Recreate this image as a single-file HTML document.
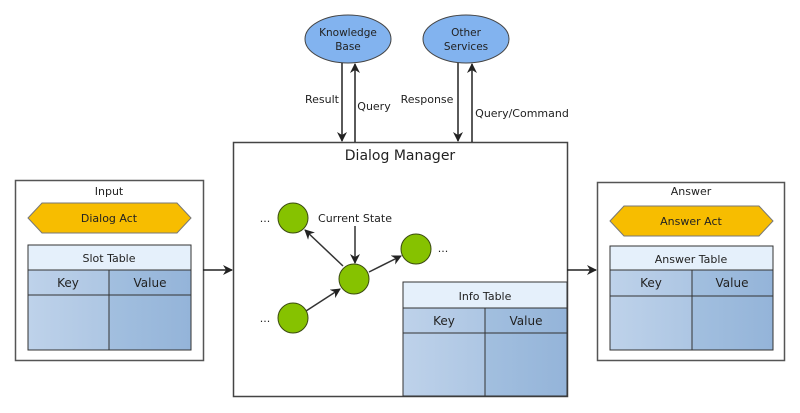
<!DOCTYPE html>
<html><head><meta charset="utf-8"><style>
html,body{margin:0;padding:0;background:#fff;}
svg{display:block;font-family:"DejaVu Sans","Liberation Sans",sans-serif;}
</style></head><body>
<svg width="800" height="413" viewBox="0 0 800 413" xmlns="http://www.w3.org/2000/svg">
<defs>
<marker id="ah" markerWidth="10" markerHeight="10" refX="9" refY="5" orient="auto" markerUnits="userSpaceOnUse">
<path d="M0,0 L10,5 L0,10 L3,5 z" fill="#222"/></marker>
<linearGradient id="gk" x1="0" x2="1"><stop offset="0" stop-color="#bed2ea"/><stop offset="1" stop-color="#adc6e3"/></linearGradient>
<linearGradient id="gv" x1="0" x2="1"><stop offset="0" stop-color="#a2bfdf"/><stop offset="1" stop-color="#94b4d9"/></linearGradient>
</defs>
<g font-size="11" fill="#222" text-anchor="middle">
<!-- Input -->
<rect x="15.5" y="180.5" width="188" height="180" fill="#fff" stroke="#555" stroke-width="1.5"/>
<text x="109" y="195">Input</text>
<polygon points="28,218 42,203 177,203 191,218 177,233 42,233" fill="#f7bd00" stroke="#777"/>
<text x="109" y="222">Dialog Act</text>
<rect x="28" y="245" width="163" height="25" fill="#e5f0fb" stroke="#333"/>
<text x="109" y="262">Slot Table</text>
<rect x="28" y="270" width="81" height="80" fill="url(#gk)" stroke="#333"/>
<rect x="109" y="270" width="82" height="80" fill="url(#gv)" stroke="#333"/>
<line x1="28" y1="295" x2="191" y2="295" stroke="#333"/>
<text x="68" y="287" font-size="12">Key</text>
<text x="150" y="287" font-size="12">Value</text>
<!-- Dialog manager -->
<rect x="233.5" y="142.5" width="334" height="254" fill="#fff" stroke="#444" stroke-width="1.5"/>
<text x="400" y="160" font-size="14">Dialog Manager</text>
<rect x="403" y="282" width="164" height="26" fill="#e5f0fb" stroke="#333"/>
<text x="485" y="300">Info Table</text>
<rect x="403" y="308" width="82" height="88" fill="url(#gk)" stroke="#333"/>
<rect x="485" y="308" width="82" height="88" fill="url(#gv)" stroke="#333"/>
<line x1="403" y1="333" x2="567" y2="333" stroke="#333"/>
<text x="444" y="325" font-size="12">Key</text>
<text x="526" y="325" font-size="12">Value</text>
<!-- graph -->
<line x1="343" y1="266" x2="305" y2="230" stroke="#333" stroke-width="1.5" marker-end="url(#ah)"/>
<line x1="306" y1="311" x2="340" y2="289" stroke="#333" stroke-width="1.5" marker-end="url(#ah)"/>
<line x1="369" y1="272" x2="401" y2="256" stroke="#333" stroke-width="1.5" marker-end="url(#ah)"/>
<line x1="355" y1="226" x2="355" y2="263" stroke="#333" stroke-width="1.5" marker-end="url(#ah)"/>
<text x="355" y="222">Current State</text>
<circle cx="293" cy="218" r="15" fill="#86c200" stroke="#3a4a10" stroke-width="1"/>
<circle cx="354" cy="279" r="15" fill="#86c200" stroke="#3a4a10" stroke-width="1"/>
<circle cx="293" cy="318" r="15" fill="#86c200" stroke="#3a4a10" stroke-width="1"/>
<circle cx="416" cy="249" r="15" fill="#86c200" stroke="#3a4a10" stroke-width="1"/>
<text x="265" y="222">...</text>
<text x="443" y="252">...</text>
<text x="265" y="322">...</text>
<!-- top -->
<ellipse cx="348" cy="39" rx="43" ry="24" fill="#82b3ef" stroke="#444"/>
<text x="348" y="36" font-size="10.5">Knowledge</text>
<text x="348" y="50" font-size="10.5">Base</text>
<ellipse cx="466" cy="39" rx="43" ry="24" fill="#82b3ef" stroke="#444"/>
<text x="466" y="36" font-size="10.5">Other</text>
<text x="466" y="50" font-size="10.5">Services</text>
<line x1="342" y1="63" x2="342" y2="141" stroke="#222" stroke-width="1.5" marker-end="url(#ah)"/>
<line x1="355" y1="142" x2="355" y2="64" stroke="#222" stroke-width="1.5" marker-end="url(#ah)"/>
<line x1="458" y1="63" x2="458" y2="141" stroke="#222" stroke-width="1.5" marker-end="url(#ah)"/>
<line x1="472" y1="142" x2="472" y2="64" stroke="#222" stroke-width="1.5" marker-end="url(#ah)"/>
<text x="322" y="103">Result</text>
<text x="374" y="110">Query</text>
<text x="427" y="103">Response</text>
<text x="522" y="117">Query/Command</text>
<!-- arrows sides -->
<line x1="203" y1="270" x2="232" y2="270" stroke="#222" stroke-width="1.5" marker-end="url(#ah)"/>
<line x1="567" y1="270" x2="596" y2="270" stroke="#222" stroke-width="1.5" marker-end="url(#ah)"/>
<!-- Answer -->
<rect x="597.5" y="182.5" width="187" height="178" fill="#fff" stroke="#555" stroke-width="1.5"/>
<text x="691" y="195">Answer</text>
<polygon points="610,221 624,206 759,206 773,221 759,236 624,236" fill="#f7bd00" stroke="#777"/>
<text x="691" y="225">Answer Act</text>
<rect x="610" y="246" width="163" height="24" fill="#e5f0fb" stroke="#333"/>
<text x="691" y="263">Answer Table</text>
<rect x="610" y="270" width="82" height="80" fill="url(#gk)" stroke="#333"/>
<rect x="692" y="270" width="81" height="80" fill="url(#gv)" stroke="#333"/>
<line x1="610" y1="296" x2="773" y2="296" stroke="#333"/>
<text x="651" y="287" font-size="12">Key</text>
<text x="732" y="287" font-size="12">Value</text>
</g>
</svg>
</body></html>
